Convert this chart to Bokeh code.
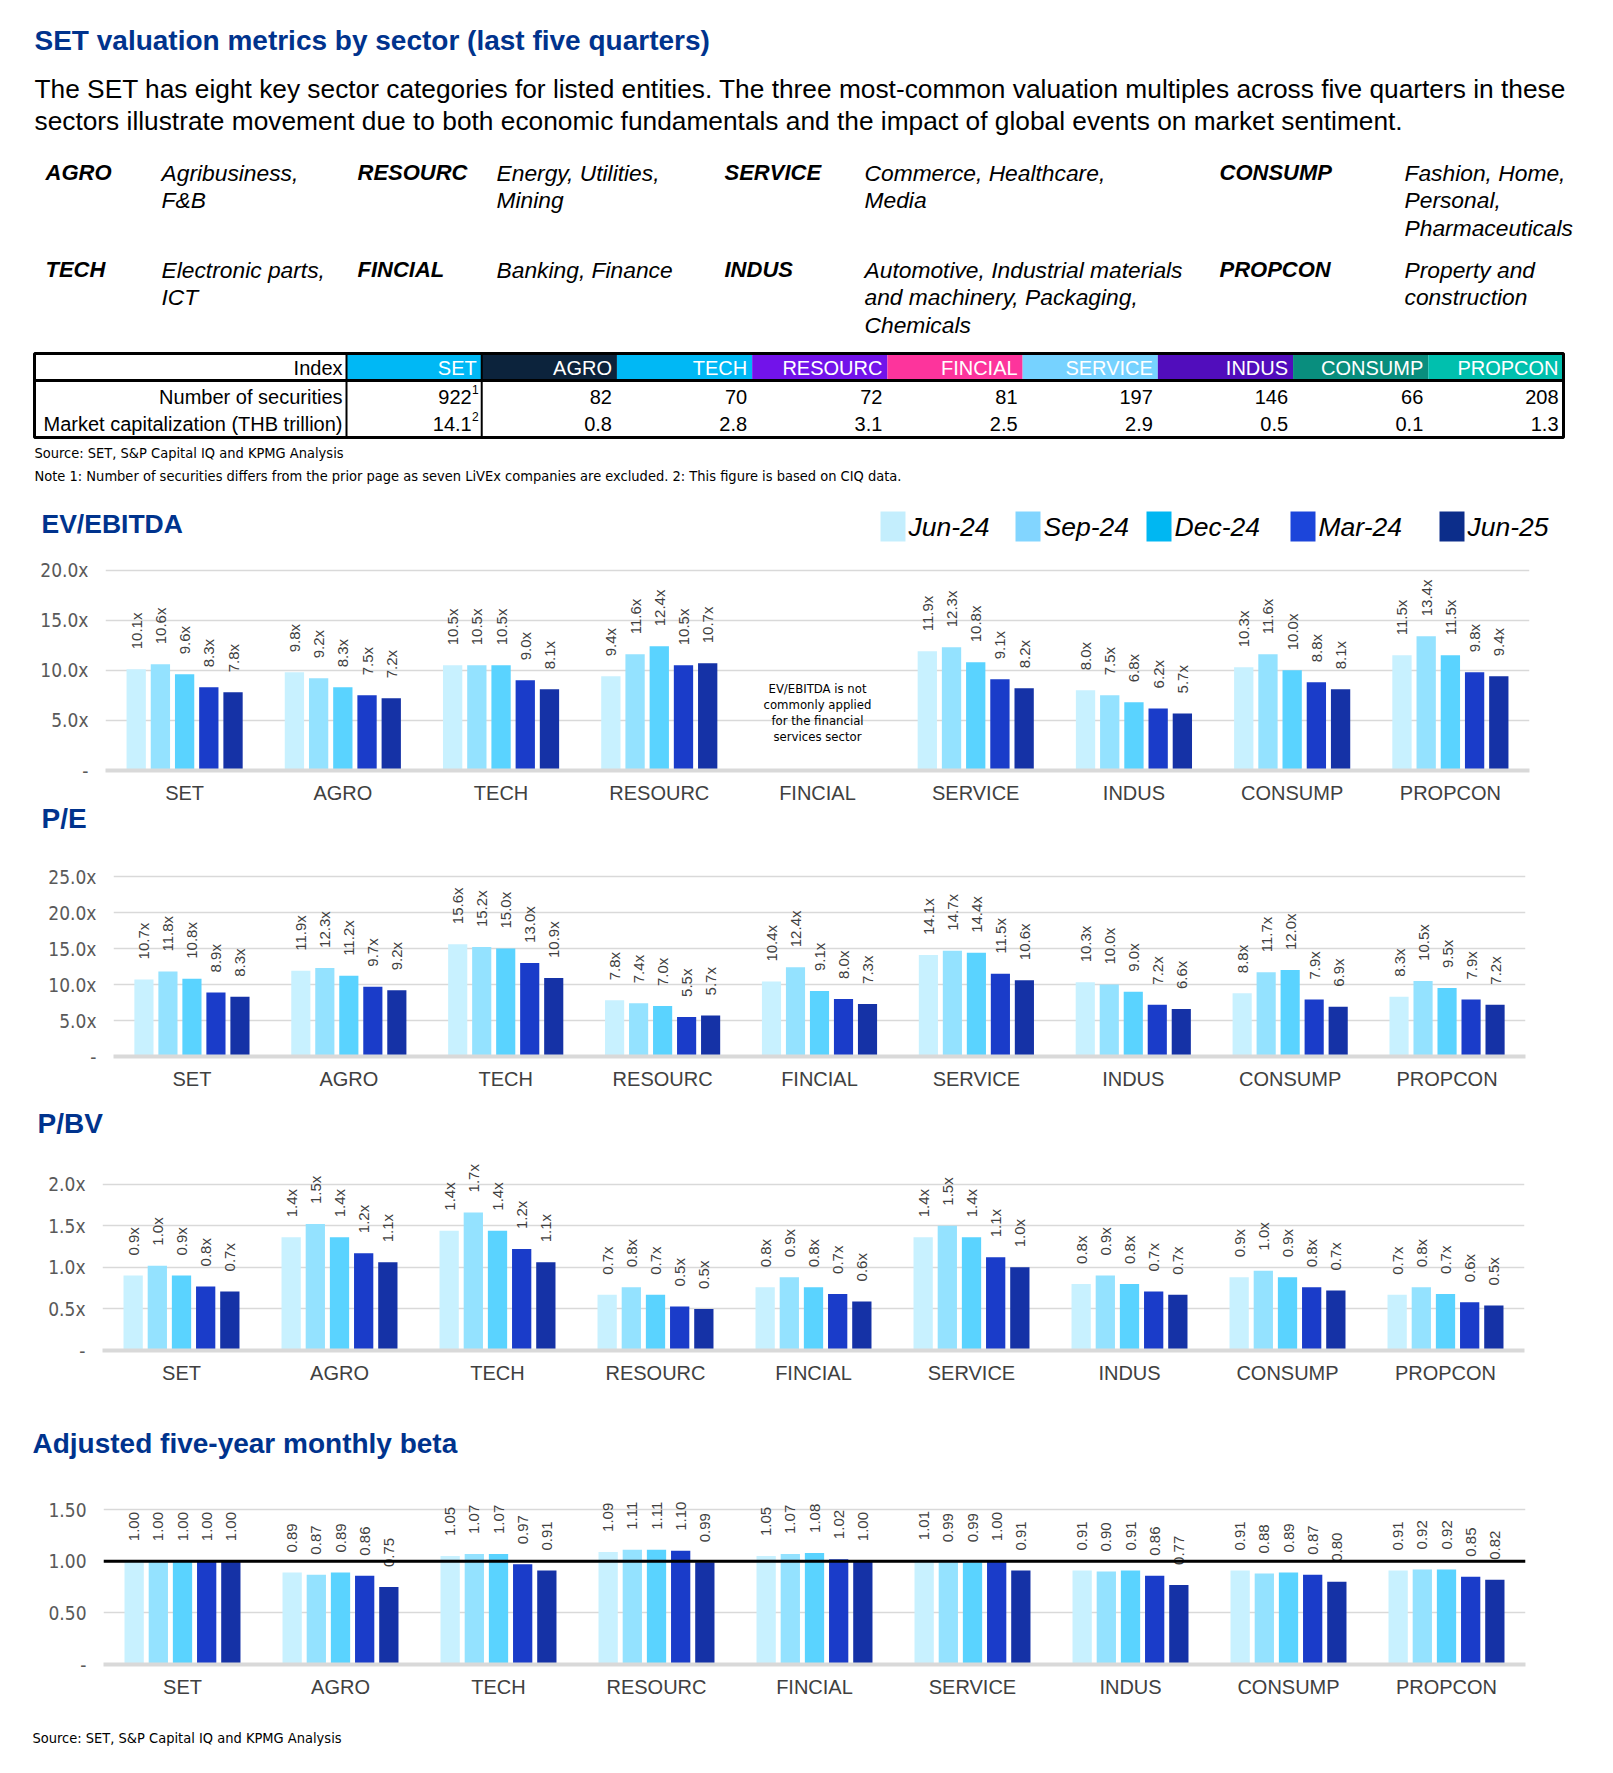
import math
from bokeh.plotting import figure
from bokeh.models import Range1d, FactorRange, FixedTicker, PrintfTickFormatter, Span, ColumnDataSource
from bokeh.transform import dodge
from bokeh.layouts import column
from bokeh.core.properties import value
from bokeh.embed import file_html
from bokeh.resources import INLINE

NAN = float("nan")

# ---------------- data ----------------
sectors = ["SET", "AGRO", "TECH", "RESOURC", "FINCIAL", "SERVICE", "INDUS", "CONSUMP", "PROPCON"]
quarters = ["Jun-24", "Sep-24", "Dec-24", "Mar-24", "Jun-25"]

# rows = quarters, columns = sectors
ev_ebitda = [
    [10.1, 9.8, 10.5, 9.4, NAN, 11.9, 8.0, 10.3, 11.5],
    [10.6, 9.2, 10.5, 11.6, NAN, 12.3, 7.5, 11.6, 13.4],
    [9.6, 8.3, 10.5, 12.4, NAN, 10.8, 6.8, 10.0, 11.5],
    [8.3, 7.5, 9.0, 10.5, NAN, 9.1, 6.2, 8.8, 9.8],
    [7.8, 7.2, 8.1, 10.7, NAN, 8.2, 5.7, 8.1, 9.4],
]
pe_ratio = [
    [10.7, 11.9, 15.6, 7.8, 10.4, 14.1, 10.3, 8.8, 8.3],
    [11.8, 12.3, 15.2, 7.4, 12.4, 14.7, 10.0, 11.7, 10.5],
    [10.8, 11.2, 15.0, 7.0, 9.1, 14.4, 9.0, 12.0, 9.5],
    [8.9, 9.7, 13.0, 5.5, 8.0, 11.5, 7.2, 7.9, 7.9],
    [8.3, 9.2, 10.9, 5.7, 7.3, 10.6, 6.6, 6.9, 7.2],
]
pbv_ratio = [
    [0.90, 1.36, 1.44, 0.67, 0.76, 1.36, 0.80, 0.88, 0.67],
    [1.02, 1.52, 1.66, 0.76, 0.88, 1.50, 0.90, 0.96, 0.76],
    [0.90, 1.36, 1.44, 0.67, 0.76, 1.36, 0.80, 0.88, 0.68],
    [0.77, 1.17, 1.22, 0.53, 0.68, 1.12, 0.71, 0.76, 0.58],
    [0.71, 1.06, 1.06, 0.50, 0.59, 1.00, 0.67, 0.72, 0.54],
]
beta = [
    [1.00, 0.89, 1.05, 1.09, 1.05, 1.01, 0.91, 0.91, 0.91],
    [1.00, 0.87, 1.07, 1.11, 1.07, 0.99, 0.90, 0.88, 0.92],
    [1.00, 0.89, 1.07, 1.11, 1.08, 0.99, 0.91, 0.89, 0.92],
    [1.00, 0.86, 0.97, 1.10, 1.02, 1.00, 0.86, 0.87, 0.85],
    [1.00, 0.75, 0.91, 0.99, 1.00, 0.91, 0.77, 0.80, 0.82],
]

num_securities = ["922", "82", "70", "72", "81", "197", "146", "66", "208"]
num_securities_note = ["1", "", "", "", "", "", "", "", ""]
market_cap = ["14.1", "0.8", "2.8", "3.1", "2.5", "2.9", "0.5", "0.1", "1.3"]
market_cap_note = ["2", "", "", "", "", "", "", "", ""]
row_labels = ["Index", "Number of securities", "Market capitalization (THB trillion)"]
header_colors = ["#00B8F5", "#0C233C", "#00B8F5", "#7213EA", "#FD349C", "#76D2FF", "#510DBC", "#098E7E", "#00C0AE"]

sector_codes = [["AGRO", "TECH"], ["RESOURC", "FINCIAL"], ["SERVICE", "INDUS"], ["CONSUMP", "PROPCON"]]
sector_desc = [
    [["Agribusiness,", "F&B"], ["Electronic parts,", "ICT"]],
    [["Energy, Utilities,", "Mining"], ["Banking, Finance"]],
    [["Commerce, Healthcare,", "Media"], ["Automotive, Industrial materials", "and machinery, Packaging,", "Chemicals"]],
    [["Fashion, Home,", "Personal,", "Pharmaceuticals"], ["Property and", "construction"]],
]

bar_colors = ["#C8F1FF", "#94E2FF", "#5AD3FF", "#1A3CC9", "#1532A6"]
legend_colors = ["#C4EEFD", "#82D5FF", "#00B7F2", "#1C45DA", "#0C2D8A"]

TITLE = "SET valuation metrics by sector (last five quarters)"
SUB1 = "The SET has eight key sector categories for listed entities. The three most-common valuation multiples across five quarters in these"
SUB2 = "sectors illustrate movement due to both economic fundamentals and the impact of global events on market sentiment."
SOURCE = "Source: SET, S&P Capital IQ and KPMG Analysis"
NOTE = "Note 1: Number of securities differs from the prior page as seven LiVEx companies are excluded. 2: This figure is based on CIQ data."
FIN_NOTE = ["EV/EBITDA is not", "commonly applied", "for the financial", "services sector"]

# ---------------- style ----------------
W = 1613
BLUE = "#00338D"
NARROW = "DejaVu Sans Condensed, Liberation Sans, sans-serif"
SANS = "Liberation Sans"
GRID = "#D9D9D9"
LABEL_GRAY = "#404040"


def pix_fig(h, margin=None):
    kw = {}
    if margin is not None:
        kw["margin"] = margin
    p = figure(width=W, height=h, x_range=Range1d(0, W), y_range=Range1d(h, 0),
               output_backend="svg", toolbar_location=None, title=None,
               x_axis_location=None, y_axis_location=None, min_border=0,
               outline_line_color=None, background_fill_color=None, border_fill_color=None,
               frame_align=False, **kw)
    p.grid.visible = False
    return p


def txt(p, x, y, s, size, font=SANS, style="normal", color="black", align="left", baseline="middle"):
    p.text(x=[x], y=[y], text=[s], text_font=value(font), text_font_size=value(f"{size}px"),
           text_font_style=style, text_color=color, text_align=align, text_baseline=baseline)


# ---------------- header ----------------
hdr = pix_fig(548)
txt(hdr, 34, 40, TITLE, 28, style="bold", color=BLUE)
txt(hdr, 34, 88, SUB1, 26.3)
txt(hdr, 34, 120, SUB2, 26.3)

code_x = [45, 357, 724, 1219]
desc_x = [161, 496, 864, 1404]
row_y0 = [172, 269]
LH = 27.5
for ci in range(4):
    for ri in range(2):
        txt(hdr, code_x[ci], row_y0[ri], sector_codes[ci][ri], 22, style="bold italic")
        for li, line in enumerate(sector_desc[ci][ri]):
            txt(hdr, desc_x[ci], row_y0[ri] + li * LH, line, 22.8, style="italic")

# table
T_L, T_LAB, T_R = 34, 346, 1563
T_TOP, T_HB, T_BOT = 353, 380, 437
CW = (T_R - T_LAB) / len(sectors)
col_left = [T_LAB + i * CW for i in range(len(sectors))]
col_right = [c + CW for c in col_left]
hdr.quad(left=col_left, right=col_right, top=[T_TOP] * 9, bottom=[T_HB] * 9,
         fill_color=header_colors, line_color=None)
row_text_y = [367, 396, 423]
for i, lab in enumerate(row_labels):
    txt(hdr, T_LAB - 4, row_text_y[i], lab, 20, align="right")
for i, s in enumerate(sectors):
    txt(hdr, col_right[i] - 5, row_text_y[0], s, 20, color="white", align="right")
    for vals, notes, y in ((num_securities, num_securities_note, row_text_y[1]),
                           (market_cap, market_cap_note, row_text_y[2])):
        if notes[i]:
            txt(hdr, col_right[i] - 10, y, vals[i], 20, align="right")
            txt(hdr, col_right[i] - 3, y - 7, notes[i], 12, align="right")
        else:
            txt(hdr, col_right[i] - 5, y, vals[i], 20, align="right")
hdr.quad(left=[T_L], right=[T_R], top=[T_TOP], bottom=[T_BOT], fill_color=None,
         line_color="black", line_width=3)
hdr.segment(x0=[T_L], x1=[T_R], y0=[T_HB], y1=[T_HB], line_color="black", line_width=3)
hdr.segment(x0=[T_LAB, col_right[0]], x1=[T_LAB, col_right[0]], y0=[T_TOP, T_TOP], y1=[T_BOT, T_BOT],
            line_color="black", line_width=2)

txt(hdr, 34, 452, SOURCE, 14.5, font=NARROW)
txt(hdr, 34, 475, NOTE, 14.5, font=NARROW)

# EV/EBITDA heading + legend
txt(hdr, 41, 523, "EV/EBITDA", 26.5, style="bold", color=BLUE)
leg_sq_x = [880, 1015, 1146, 1290, 1439]
hdr.quad(left=leg_sq_x, right=[x + 25 for x in leg_sq_x], top=[511] * 5, bottom=[541] * 5,
         fill_color=legend_colors, line_color=None)
for i, q in enumerate(quarters):
    txt(hdr, leg_sq_x[i] + 28, 526, q, 26.5, style="italic")


# ---------------- charts ----------------
OFFSETS = [-0.306, -0.153, 0.0, 0.153, 0.306]
BAR_W = 0.122
GAP_PX = 20
BOTTOM = 44


def make_chart(vals, fmt, ticks, tick_fmt, ppu, frame_h, left, right):
    y_end = frame_h / ppu
    height = frame_h + BOTTOM
    p = figure(width=W, height=height, x_range=FactorRange(factors=sectors, range_padding=0),
               y_range=Range1d(0, y_end), output_backend="svg", toolbar_location=None, title=None,
               min_border_left=left, min_border_right=right, min_border_top=0,
               min_border_bottom=BOTTOM, outline_line_color=None, frame_align=False,
               background_fill_color="white", border_fill_color="white")
    for qi, q in enumerate(quarters):
        xs, tops, labels, ly = [], [], [], []
        for s, v in zip(sectors, vals[qi]):
            if v != v:
                continue
            xs.append(s)
            tops.append(v)
            labels.append(fmt % v)
            ly.append(v + GAP_PX / ppu)
        src = ColumnDataSource(dict(sector=xs, top=tops, label=labels, ly=ly))
        p.vbar(x=dodge("sector", OFFSETS[qi], range=p.x_range), top="top", width=BAR_W,
               source=src, fill_color=bar_colors[qi], line_color=None)
        p.text(x=dodge("sector", OFFSETS[qi], range=p.x_range), y="ly", text="label", source=src,
               angle=math.pi / 2, text_align="left", text_baseline="middle",
               text_font=value(SANS), text_font_size=value("15px"), text_color=LABEL_GRAY)
    p.yaxis.ticker = FixedTicker(ticks=ticks)
    p.yaxis.formatter = PrintfTickFormatter(format=tick_fmt)
    p.yaxis.major_label_overrides = {0: "-"}
    p.yaxis.axis_line_color = None
    p.yaxis.major_tick_line_color = None
    p.yaxis.minor_tick_line_color = None
    p.yaxis.major_label_standoff = 11
    p.yaxis.major_label_text_font = NARROW
    p.yaxis.major_label_text_font_size = "19px"
    p.yaxis.major_label_text_color = "#595959"
    p.xaxis.axis_line_color = GRID
    p.xaxis.axis_line_width = 4
    p.xaxis.major_tick_line_color = None
    p.xaxis.minor_tick_line_color = None
    p.xaxis.major_label_standoff = 5
    p.xaxis.major_label_text_font = SANS
    p.xaxis.major_label_text_font_size = "20px"
    p.xaxis.major_label_text_color = LABEL_GRAY
    p.xgrid.grid_line_color = None
    p.ygrid.grid_line_color = GRID
    p.ygrid.grid_line_width = 1.5
    return p


ev_ppu = 10.02
c1 = make_chart(ev_ebitda, "%.1fx", [0, 5, 10, 15, 20], "%.1fx", ev_ppu, 222, 105, 84)
note_center = 58 / ev_ppu
note_y = [note_center + (24 - 16 * k) / ev_ppu for k in range(4)]
c1.text(x=["FINCIAL"] * 4, y=note_y, text=FIN_NOTE, text_align="center", text_baseline="middle",
        text_font=value(NARROW), text_font_size=value("13px"), text_color="black")

f1 = pix_fig(65, margin=(-18, 0, 0, 0))
txt(f1, 41, 22, "P/E", 28, style="bold", color=BLUE)

c2 = make_chart(pe_ratio, "%.1fx", [0, 5, 10, 15, 20, 25], "%.1fx", 7.2, 195, 113, 88)

f2 = pix_fig(63)
txt(f2, 37, 23, "P/BV", 28, style="bold", color=BLUE)

c3 = make_chart(pbv_ratio, "%.1fx", [0, 0.5, 1.0, 1.5, 2.0], "%.1fx", 83.2, 187, 102, 89)

f3 = pix_fig(93)
txt(f3, 32, 49, "Adjusted five-year monthly beta", 28, style="bold", color=BLUE)

c4 = make_chart(beta, "%.2f", [0, 0.5, 1.0, 1.5], "%.2f", 103.3, 177, 103, 88)
c4.add_layout(Span(location=1.0, dimension="width", line_color="black", line_width=3))

f4 = pix_fig(50)
txt(f4, 32, 29, SOURCE, 14.5, font=NARROW)

page = column([hdr, c1, f1, c2, f2, c3, f3, c4, f4], spacing=0)

with open("out.html", "w") as fh:
    fh.write(file_html(page, INLINE))
